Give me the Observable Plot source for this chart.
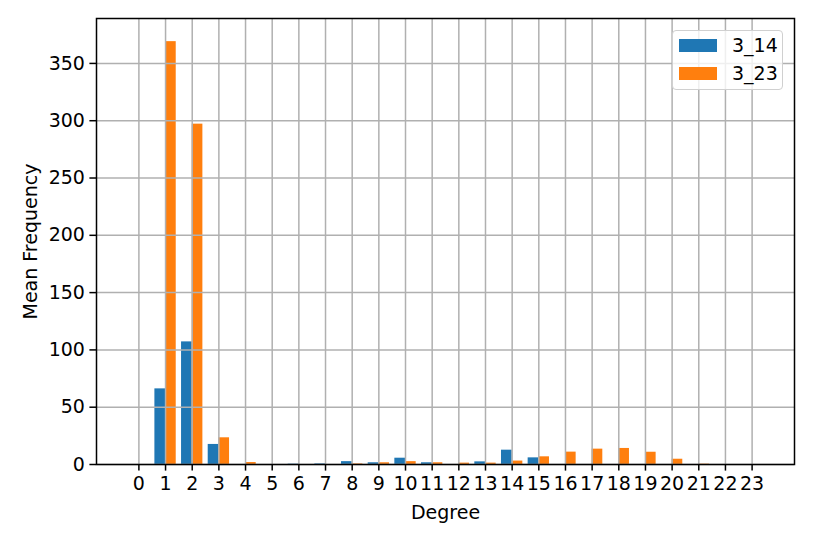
<!DOCTYPE html>
<html>
<head>
<meta charset="utf-8">
<script src="https://cdn.jsdelivr.net/npm/d3@7"></script>
<script src="https://cdn.jsdelivr.net/npm/@observablehq/plot@0.6"></script>
<style>
  body { margin: 0; background: white; }
  #wrap { position: relative; width: 814px; height: 543px; font-family: "DejaVu Sans", sans-serif; }
  #legend { position: absolute; left: 672px; top: 30px; width: 111px; height: 60px; box-sizing: border-box;
            border: 1px solid #d0d0d0; border-radius: 4px; background: rgba(255,255,255,0.8); }
  .item { position: absolute; left: 6px; height: 14px; display: flex; align-items: center; }
  .sw { width: 38px; height: 13px; display: inline-block; }
  .lab { position: absolute; left: 59px; font-size: 19px; line-height: 19px; white-space: nowrap; color: #000; }
</style>
</head>
<body>
<div id="wrap"></div>
<script>
const degrees = [0,1,2,3,4,5,6,7,8,9,10,11,12,13,14,15,16,17,18,19,20,21,22,23];
const series314 = [0, 66, 107, 17.5, 0, 0, 0.3, 0.5, 2.5, 1.5, 5.5, 1.5, 0, 2.3, 12.5, 5.8, 0, 0, 0, 0, 0, 0, 0, 0];
const series323 = [0, 369, 297, 23.3, 1.7, 0, 0, 0, 0.5, 1.5, 2.5, 1.5, 1.2, 1.2, 3, 6.7, 10.8, 13.4, 14, 10.7, 4.6, 0.3, 0, 0];
const seriesNames = ["3_14", "3_23"];
const colors = ["#1f77b4", "#ff7f0e"];
const yTicks = [0, 50, 100, 150, 200, 250, 300, 350];
const xLabel = "Degree";
const yLabel = "Mean Frequency";

const barW = 0.4;
const d314 = degrees.map((d, i) => ({degree: d, value: series314[i]}));
const d323 = degrees.map((d, i) => ({degree: d, value: series323[i]}));

const chart = Plot.plot({
  width: 814,
  height: 543,
  marginLeft: 96,
  marginRight: 20,
  marginTop: 18,
  marginBottom: 79,
  style: { fontFamily: "DejaVu Sans", fontSize: "19px", background: "white", color: "black" },
  x: { domain: [-1.59, 24.59] },
  y: { domain: [0, 389.2] },
  marks: [
    Plot.rect(d314, { x1: d => d.degree - barW, x2: d => d.degree, y1: 0, y2: "value", fill: colors[0], inset: 0 }),
    Plot.rect(d323, { x1: d => d.degree, x2: d => d.degree + barW, y1: 0, y2: "value", fill: colors[1], inset: 0 }),
    Plot.gridX(degrees, { stroke: "#b0b0b0", strokeOpacity: 1, strokeWidth: 1.5 }),
    Plot.gridY(yTicks, { stroke: "#b0b0b0", strokeOpacity: 1, strokeWidth: 1.5 }),
    Plot.frame({ stroke: "black", strokeWidth: 1.5 }),
    Plot.axisX(degrees, { tickSize: 6.6, tickPadding: 5, tickFormat: d => String(d), label: null, strokeWidth: 1.5 }),
    Plot.axisY(yTicks, { tickSize: 6.6, tickPadding: 5, tickFormat: d => String(d), label: null, strokeWidth: 1.5 }),
    Plot.text([xLabel], { frameAnchor: "bottom", dy: 48, lineAnchor: "middle", fill: "black" }),
    Plot.text([yLabel], { frameAnchor: "left", dx: -66, rotate: -90, textAnchor: "middle", lineAnchor: "middle", fill: "black" })
  ]
});

const wrap = document.getElementById("wrap");
wrap.appendChild(chart);

const legend = document.createElement("div");
legend.id = "legend";
seriesNames.forEach((name, i) => {
  const item = document.createElement("div");
  item.className = "item";
  item.style.top = (7 + i * 28) + "px";
  const sw = document.createElement("span");
  sw.className = "sw";
  sw.style.background = colors[i];
  item.appendChild(sw);
  legend.appendChild(item);
  const lab = document.createElement("div");
  lab.className = "lab";
  lab.style.top = (5 + i * 28) + "px";
  lab.textContent = name;
  legend.appendChild(lab);
});
wrap.appendChild(legend);
</script>
</body>
</html>
